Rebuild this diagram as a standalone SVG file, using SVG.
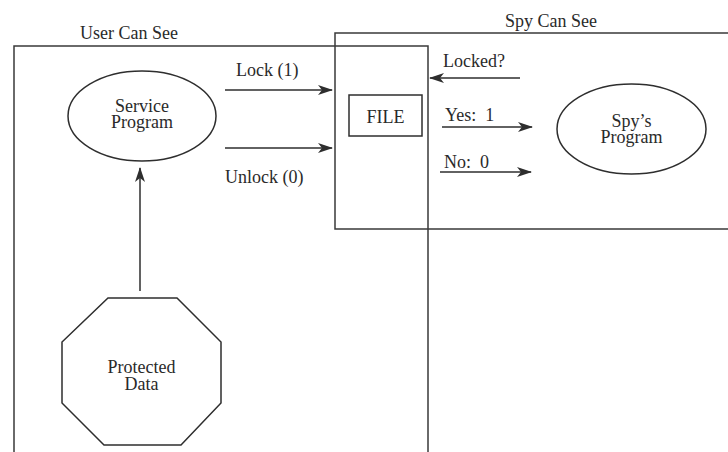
<svg xmlns="http://www.w3.org/2000/svg" width="728" height="452" viewBox="0 0 728 452">
  <style>
    .box { fill: none; stroke: #3a3a3a; stroke-width: 1.5; }
    .shape { fill: none; stroke: #2e2e2e; stroke-width: 1.5; }
    .edge { fill: none; stroke: #2e2e2e; stroke-width: 1.5; marker-end: url(#head); }
    text { font-family: "Liberation Serif", "Times New Roman", serif; font-size: 18px; fill: #2a2a2a; }
    .c { text-anchor: middle; }
  </style>
  <defs>
    <marker id="head" viewBox="0 0 15 10" refX="14" refY="5" markerWidth="15" markerHeight="10" markerUnits="userSpaceOnUse" orient="auto">
      <path d="M0,0 L15,5 L0,10 L4,5 Z" fill="#2e2e2e"/>
    </marker>
  </defs>
  <rect width="728" height="452" fill="#ffffff"/>

  <!-- visibility regions -->
  <g id="user-region">
    <path class="box" d="M14,460 L14,46 L428,46 L428,460"/>
    <text x="129" y="39" class="c">User Can See</text>
  </g>
  <g id="spy-region">
    <path class="box" d="M735,33 L335,33 L335,229 L735,229"/>
    <text x="551" y="27" class="c">Spy Can See</text>
  </g>

  <!-- nodes -->
  <g id="service-program">
    <ellipse class="shape" cx="142" cy="116" rx="74" ry="45"/>
    <text x="142" y="112" class="c">Service</text>
    <text x="142" y="128" class="c">Program</text>
  </g>
  <g id="file">
    <rect class="shape" x="349" y="95" width="73" height="41"/>
    <text x="385.5" y="123" class="c">FILE</text>
  </g>
  <g id="spy-program">
    <ellipse class="shape" cx="631.5" cy="129" rx="74.5" ry="45"/>
    <text x="631.5" y="127" class="c">Spy’s</text>
    <text x="631.5" y="143" class="c">Program</text>
  </g>
  <g id="protected-data">
    <polygon class="shape" points="108,298 177,298 221,342 221,403 181,445 104,445 62,403 62,342"/>
    <text x="141.5" y="373" class="c">Protected</text>
    <text x="141.5" y="390" class="c">Data</text>
  </g>

  <!-- connectors -->
  <g id="connectors">
    <line class="edge" x1="225" y1="90" x2="332" y2="90"/>
    <line class="edge" x1="225" y1="148" x2="332" y2="148"/>
    <line class="edge" x1="140" y1="291" x2="140" y2="168"/>
    <line class="edge" x1="520" y1="78" x2="430" y2="78"/>
    <line class="edge" x1="442" y1="127" x2="532" y2="127"/>
    <line class="edge" x1="440" y1="172" x2="531" y2="172"/>
  </g>

  <!-- connector labels -->
  <g id="labels">
    <text x="236" y="76">Lock (1)</text>
    <text x="225" y="183">Unlock (0)</text>
    <text x="443" y="67">Locked?</text>
    <text x="445" y="121" xml:space="preserve">Yes:  1</text>
    <text x="444" y="168" xml:space="preserve">No:  0</text>
  </g>
</svg>
